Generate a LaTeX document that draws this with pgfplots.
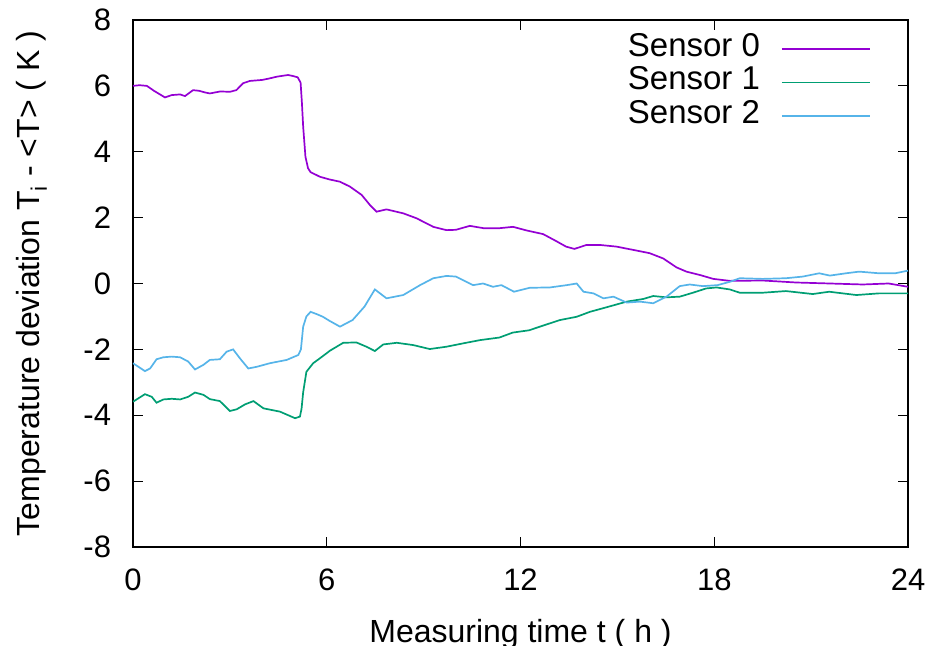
\documentclass[border=0pt]{standalone}
\usepackage{fontspec}
\setmainfont{Liberation Sans}
\usepackage{pgfplots}
\pgfplotsset{compat=1.18}
\definecolor{s0}{HTML}{9400D3}
\definecolor{s1}{HTML}{009E73}
\definecolor{s2}{HTML}{56B4E9}
\begin{document}
\begin{tikzpicture}[font=\fontsize{32bp}{38bp}\selectfont]
\useasboundingbox (-133bp,-99bp) rectangle (807bp,547bp);
\begin{axis}[
  scale only axis, width=775bp, height=527bp,
  xmin=0, xmax=24, ymin=-8, ymax=8,
  xtick={0,6,...,24}, ytick={-8,-6,...,8},
  tick align=inside, major tick length=10bp,
  every tick/.style={black, line width=1bp},
  axis line style={line width=1.5bp},
  /pgf/number format/assume math mode=true,
  tick label style={inner sep=0pt, outer sep=0pt, font=\fontsize{31bp}{36bp}\selectfont},
  yticklabel style={xshift=-22bp},
  xticklabel style={yshift=-22bp},
  xlabel={Measuring time t ( h )},
  ylabel={Temperature deviation T\textsubscript{i} - <T> ( K )},
  xlabel style={at={(axis description cs:0.5,-0.166)}, anchor=center},
  ylabel style={at={(axis description cs:-0.131,0.5)}, anchor=center},
  legend plot pos=right,
  legend cell align=right,
  legend image code/.code={\draw[#1] (0bp,0bp) -- (88bp,0bp);},
  legend style={draw=none, fill=none, anchor=north east,
    at={(axis description cs:0.956,0.981)},
    font=\fontsize{33bp}{38bp}\selectfont,
    nodes={inner sep=0pt, text height=24bp, text depth=9.5bp}, row sep=0bp, column sep=21bp},
]
\addplot[s0, line width=1.7bp] coordinates {(0,6.0)(0.2,6.02)(0.43,6.0)(0.65,5.85)(0.99,5.65)(1.2,5.72)(1.46,5.74)(1.61,5.69)(1.86,5.87)(2.05,5.85)(2.23,5.80)(2.38,5.77)(2.7,5.83)(3.0,5.82)(3.2,5.87)(3.41,6.08)(3.62,6.15)(4.0,6.18)(4.2,6.22)(4.46,6.28)(4.8,6.33)(4.95,6.3)(5.1,6.26)(5.19,6.1)(5.23,5.5)(5.27,4.76)(5.34,3.85)(5.42,3.5)(5.5,3.38)(5.79,3.24)(6.08,3.16)(6.41,3.09)(6.72,2.94)(7.08,2.69)(7.34,2.38)(7.54,2.18)(7.85,2.25)(8.37,2.13)(8.78,1.98)(9.3,1.72)(9.71,1.62)(10.0,1.63)(10.43,1.75)(10.85,1.68)(11.36,1.68)(11.77,1.72)(12.19,1.61)(12.7,1.50)(13.1,1.29)(13.41,1.12)(13.67,1.05)(14.04,1.17)(14.46,1.17)(14.97,1.12)(15.49,1.02)(16.0,0.92)(16.42,0.76)(16.83,0.49)(17.14,0.36)(17.55,0.26)(17.97,0.14)(18.48,0.08)(19.51,0.09)(20.54,0.03)(21.58,0.0)(22.6,-0.03)(23.4,0.0)(24,-0.1)};
\addlegendentry{Sensor 0}
\addplot[s1, line width=1.7bp] coordinates {(0,-3.59)(0.37,-3.36)(0.58,-3.44)(0.73,-3.62)(0.94,-3.52)(1.2,-3.5)(1.46,-3.52)(1.71,-3.44)(1.92,-3.31)(2.18,-3.38)(2.38,-3.51)(2.69,-3.57)(3.0,-3.87)(3.21,-3.82)(3.47,-3.67)(3.73,-3.57)(4.04,-3.79)(4.55,-3.89)(5.02,-4.09)(5.17,-4.04)(5.22,-3.8)(5.27,-3.3)(5.37,-2.68)(5.58,-2.42)(5.79,-2.27)(6.1,-2.04)(6.51,-1.80)(6.92,-1.79)(7.23,-1.92)(7.49,-2.05)(7.75,-1.85)(8.17,-1.80)(8.68,-1.87)(9.19,-1.99)(9.7,-1.92)(10.21,-1.82)(10.74,-1.72)(11.35,-1.64)(11.76,-1.49)(12.27,-1.42)(12.6,-1.31)(13.22,-1.11)(13.74,-1.01)(14.15,-0.86)(14.67,-0.72)(15.29,-0.55)(15.8,-0.47)(16.11,-0.38)(16.52,-0.42)(16.93,-0.40)(17.34,-0.28)(17.75,-0.15)(18.07,-0.12)(18.48,-0.18)(18.79,-0.28)(19.5,-0.28)(20.22,-0.23)(21.05,-0.32)(21.56,-0.25)(22.4,-0.35)(23.1,-0.30)(24,-0.30)};
\addlegendentry{Sensor 1}
\addplot[s2, line width=1.7bp] coordinates {(0,-2.42)(0.37,-2.66)(0.53,-2.58)(0.73,-2.30)(0.94,-2.24)(1.2,-2.22)(1.46,-2.24)(1.71,-2.37)(1.92,-2.61)(2.18,-2.47)(2.38,-2.32)(2.69,-2.30)(2.9,-2.07)(3.1,-2.0)(3.31,-2.27)(3.57,-2.58)(3.83,-2.53)(4.24,-2.42)(4.76,-2.32)(5.12,-2.17)(5.2,-2.0)(5.27,-1.31)(5.37,-1.0)(5.5,-0.86)(5.69,-0.93)(5.88,-1.01)(6.08,-1.13)(6.41,-1.31)(6.8,-1.11)(7.17,-0.70)(7.49,-0.18)(7.85,-0.45)(8.37,-0.35)(8.89,-0.05)(9.3,0.16)(9.71,0.23)(10.0,0.21)(10.53,-0.05)(10.84,0.0)(11.15,-0.1)(11.41,-0.05)(11.8,-0.25)(12.29,-0.13)(12.91,-0.12)(13.43,-0.05)(13.74,0.0)(13.95,-0.25)(14.26,-0.30)(14.57,-0.45)(14.88,-0.40)(15.29,-0.58)(15.7,-0.55)(16.11,-0.60)(16.52,-0.40)(16.93,-0.08)(17.24,-0.03)(17.65,-0.08)(18.1,-0.05)(18.48,0.05)(18.79,0.16)(19.5,0.14)(20.22,0.16)(20.74,0.21)(21.25,0.31)(21.58,0.24)(22.08,0.31)(22.49,0.36)(23.1,0.31)(23.6,0.31)(24,0.39)};
\addlegendentry{Sensor 2}
\end{axis}
\end{tikzpicture}
\end{document}
